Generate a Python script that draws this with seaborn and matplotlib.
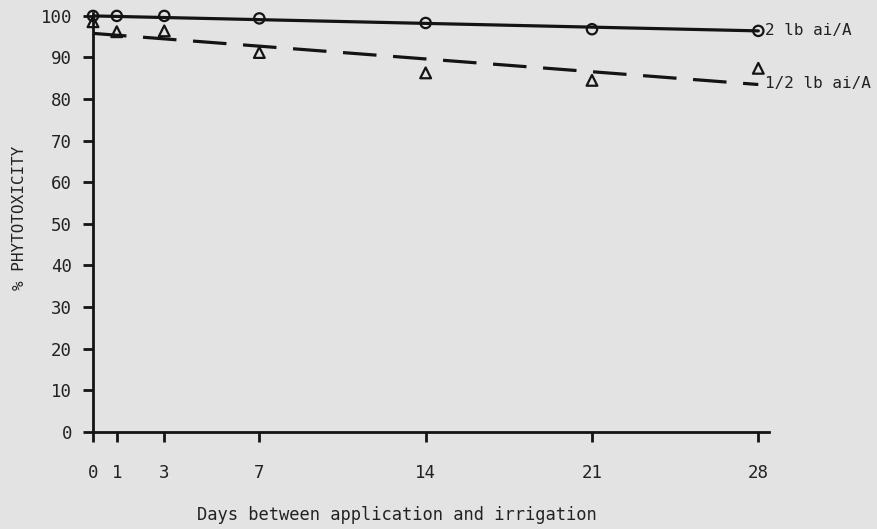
import matplotlib
matplotlib.use("Agg")
import matplotlib.pyplot as plt
import seaborn as sns
import pandas as pd

# ---- data ----
days = [0, 1, 3, 7, 14, 21, 28]
tox_2lb = [100.0, 100.0, 100.0, 99.4, 98.3, 96.8, 96.4]
tox_half = [98.6, 96.2, 96.4, 91.2, 86.3, 84.5, 87.4]
fit_days = [0, 28]
fit_2lb = [100.0, 96.4]
fit_half = [95.8, 83.5]
x_ticks = [0, 1, 3, 7, 14, 21, 28]
y_ticks = [0, 10, 20, 30, 40, 50, 60, 70, 80, 90, 100]
series_labels = ["2 lb ai/A", "1/2 lb ai/A"]
x_label = "Days between application and irrigation"
y_label = "% PHYTOTOXICITY"

sns.set_style("white")
BG = "#e3e3e3"
INK = "#141414"
plt.rcParams["font.family"] = ["DejaVu Sans Mono", "DejaVu Sans"]
plt.rcParams["axes.facecolor"] = BG
plt.rcParams["figure.facecolor"] = BG

fig = plt.figure(figsize=(8.78, 5.29), dpi=100)
ax = fig.add_axes([93 / 878, 1 - 431.7 / 529, (769 - 93) / 878, (431.7 - 13) / 529])

pts = pd.DataFrame({"day": days * 2,
                    "tox": tox_2lb + tox_half,
                    "rate": [series_labels[0]] * len(days) + [series_labels[1]] * len(days)})
fits = pd.DataFrame({"day": fit_days * 2,
                     "tox": fit_2lb + fit_half,
                     "rate": [series_labels[0]] * 2 + [series_labels[1]] * 2})

# fitted lines
sns.lineplot(data=fits[fits.rate == series_labels[0]], x="day", y="tox", ax=ax,
             color=INK, lw=2.3, legend=False)
sns.lineplot(data=fits[fits.rate == series_labels[1]], x="day", y="tox", ax=ax,
             color=INK, lw=2.3, legend=False, dashes=False)
ax.lines[-1].set_dashes((10.5, 5.2))

# observed points
sns.scatterplot(data=pts[pts.rate == series_labels[0]], x="day", y="tox", ax=ax,
                marker="o", s=55, facecolor="none", edgecolor=INK, linewidth=1.6,
                legend=False, clip_on=False, zorder=5)
sns.scatterplot(data=pts[pts.rate == series_labels[1]], x="day", y="tox", ax=ax,
                marker="^", s=60, facecolor="none", edgecolor=INK, linewidth=1.6,
                legend=False, clip_on=False, zorder=5)

# end labels
ax.annotate(series_labels[0], xy=(fit_days[-1], fit_2lb[-1]), xytext=(5, 0),
            textcoords="offset points", va="center", ha="left", fontsize=11.5,
            color="#222", annotation_clip=False)
ax.annotate(series_labels[1], xy=(fit_days[-1], fit_half[-1]), xytext=(5, 1),
            textcoords="offset points", va="center", ha="left", fontsize=11.5,
            color="#222", annotation_clip=False)

ax.set_xlim(0, 28.45)
ax.set_ylim(0, 100.7)
ax.set_xticks(x_ticks)
ax.set_yticks(y_ticks)
ax.set_xticklabels([str(v) for v in x_ticks])
ax.set_yticklabels([str(v) for v in y_ticks])

for s in ["top", "right"]:
    ax.spines[s].set_visible(False)
for s in ["left", "bottom"]:
    ax.spines[s].set_linewidth(2)
    ax.spines[s].set_color(INK)

ax.tick_params(axis="x", bottom=True, direction="out", length=7, width=2, color=INK,
               pad=16, labelsize=12.5, labelcolor="#222")
ax.tick_params(axis="y", left=True, direction="out", length=7, width=2, color=INK,
               pad=8, labelsize=12.5, labelcolor="#222")

ax.set_xlabel(x_label, fontsize=12.3, color="#222", va="top")
ax.xaxis.set_label_coords((397 - 93) / 676, (431.7 - 506) / 418.7)
ax.set_ylabel(y_label, fontsize=11.5, color="#222")
ax.yaxis.set_label_coords(-0.098, 0.51)

fig.savefig("out.png", dpi=100, facecolor=BG)
